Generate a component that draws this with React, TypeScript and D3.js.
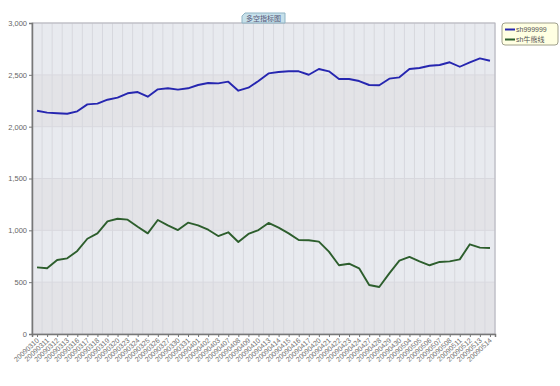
import { useEffect, useRef } from "react";
import * as d3 from "d3";

const dates = [
  "20090310", "20090311", "20090312", "20090313", "20090316", "20090317", "20090318", "20090319",
  "20090320", "20090323", "20090324", "20090325", "20090326", "20090327", "20090330", "20090331",
  "20090401", "20090402", "20090403", "20090407", "20090408", "20090409", "20090410", "20090413",
  "20090414", "20090415", "20090416", "20090417", "20090420", "20090421", "20090422", "20090423",
  "20090424", "20090427", "20090428", "20090429", "20090430", "20090504", "20090505", "20090506",
  "20090507", "20090508", "20090511", "20090512", "20090513", "20090514",
];

// sh999999 close
const indexValues = [
  2154, 2135, 2129, 2125, 2148, 2215, 2222, 2260, 2280, 2322, 2334, 2289, 2360, 2370, 2357, 2370,
  2402, 2421, 2418, 2434, 2347, 2376, 2440, 2514, 2527, 2534, 2534, 2501, 2556, 2534, 2460, 2460,
  2440, 2402, 2399, 2463, 2476, 2556, 2566, 2588, 2595, 2621, 2578, 2621, 2659, 2636,
];

// sh牛熊线
const bullBearValues = [
  643, 634, 714, 730, 801, 919, 971, 1087, 1112, 1103, 1035, 971, 1100, 1048, 1003, 1074,
  1048, 1006, 945, 981, 887, 965, 1003, 1071, 1026, 971, 907, 904, 891, 794, 663, 678,
  634, 473, 453, 585, 707, 743, 701, 663, 695, 701, 720, 865, 833, 830,
];

const yTicks = [0, 500, 1000, 1500, 2000, 2500, 3000];

const seriesNames = ["sh999999", "sh牛熊线"];
const seriesColors = ["#2626b0", "#2d5e2d"];

export default function App() {
  const svgRef = useRef<SVGSVGElement | null>(null);

  useEffect(() => {
    const width = 560;
    const height = 386;
    const left = 32;
    const right = 495;
    const top = 23;
    const bottom = 334;

    const svg = d3.select(svgRef.current)
      .attr("width", width)
      .attr("height", height)
      .style("font-family", "'Liberation Sans', Arial, sans-serif");
    svg.selectAll("*").remove();

    const x = d3.scalePoint<string>().domain(dates).range([left, right]).padding(0.5);
    const step = x.step();
    const y = d3.scaleLinear().domain([0, 3000]).range([bottom, top]);

    // alternating horizontal bands
    const bands = d3.range(yTicks.length - 1);
    svg.append("g")
      .selectAll("rect")
      .data(bands)
      .enter()
      .append("rect")
      .attr("x", left)
      .attr("width", right - left)
      .attr("y", d => y(yTicks[d + 1]))
      .attr("height", d => y(yTicks[d]) - y(yTicks[d + 1]))
      .attr("fill", d => (d % 2 === 1 ? "#e8eaef" : "#e3e3e7"));

    // vertical category grid
    svg.append("g")
      .selectAll("line")
      .data(d3.range(dates.length + 1))
      .enter()
      .append("line")
      .attr("x1", d => left + d * step)
      .attr("x2", d => left + d * step)
      .attr("y1", top)
      .attr("y2", bottom)
      .attr("stroke", "#d7d8de")
      .attr("stroke-width", 1);

    // horizontal grid
    svg.append("g")
      .selectAll("line")
      .data(yTicks.slice(1))
      .enter()
      .append("line")
      .attr("x1", left)
      .attr("x2", right)
      .attr("y1", d => y(d))
      .attr("y2", d => y(d))
      .attr("stroke", "#d8d8de");

    // plot border
    svg.append("rect")
      .attr("x", left)
      .attr("y", top)
      .attr("width", right - left)
      .attr("height", bottom - top)
      .attr("fill", "none")
      .attr("stroke", "#b4b4bc");

    // y axis
    const yAxis = svg.append("g").attr("transform", `translate(${left},0)`)
      .call(d3.axisLeft(y).tickValues(yTicks).tickSize(3).tickFormat(d3.format(",")));
    yAxis.select(".domain").attr("stroke", "#777").attr("stroke-width", 1.5);
    yAxis.selectAll(".tick line").attr("stroke", "#777");
    yAxis.selectAll(".tick text")
      .attr("fill", "#666")
      .style("font-size", "7.5px")
      .attr("x", -5);

    // x axis
    const xAxis = svg.append("g").attr("transform", `translate(0,${bottom})`)
      .call(d3.axisBottom(x).tickSize(3));
    xAxis.select(".domain").attr("stroke", "#777").attr("stroke-width", 1.5);
    xAxis.selectAll(".tick line").attr("stroke", "#777");
    xAxis.selectAll(".tick text")
      .attr("fill", "#707070")
      .style("font-size", "7px")
      .attr("text-anchor", "end")
      .attr("dy", 0)
      .attr("y", 0)
      .attr("transform", "translate(2,7) rotate(-43)");

    // lines
    const line = d3.line<number>()
      .x((_, i) => x(dates[i]) as number)
      .y(d => y(d));

    [indexValues, bullBearValues].forEach((vals, k) => {
      svg.append("path")
        .datum(vals)
        .attr("d", line)
        .attr("fill", "none")
        .attr("stroke", seriesColors[k])
        .attr("stroke-width", 1.9)
        .attr("stroke-linejoin", "round");
    });

    // title tab
    const tg = svg.append("g").attr("transform", "translate(242,13)");
    tg.append("path")
      .attr("d", "M0,10 L0,3 L3,0 L43,0 L43,10 Z")
      .attr("fill", "#c6e0ea")
      .attr("stroke", "#8fb3c4");
    tg.append("text")
      .attr("x", 21.5)
      .attr("y", 7.8)
      .attr("text-anchor", "middle")
      .attr("fill", "#557")
      .style("font-family", "'Noto Sans CJK SC', sans-serif")
      .style("font-size", "7px")
      .text("多空指标图");

    // legend
    const lg = svg.append("g").attr("transform", "translate(502,23)");
    lg.append("rect")
      .attr("width", 56)
      .attr("height", 22)
      .attr("rx", 3)
      .attr("fill", "#ffffe2")
      .attr("stroke", "#a0a08c");
    seriesNames.forEach((name, k) => {
      const row = lg.append("g").attr("transform", `translate(3,${6.5 + k * 10})`);
      row.append("line")
        .attr("x1", 0)
        .attr("x2", 10)
        .attr("stroke", seriesColors[k])
        .attr("stroke-width", 2);
      row.append("text")
        .attr("x", 11)
        .attr("y", 2.5)
        .attr("fill", "#555")
        .style("font-family", "'Liberation Sans', 'Noto Sans CJK SC', sans-serif")
        .style("font-size", "7px")
        .text(name);
    });
  }, []);

  return (
    <div style={{ position: "fixed", left: 0, top: 0, background: "#fff" }}>
      <svg ref={svgRef} />
    </div>
  );
}
